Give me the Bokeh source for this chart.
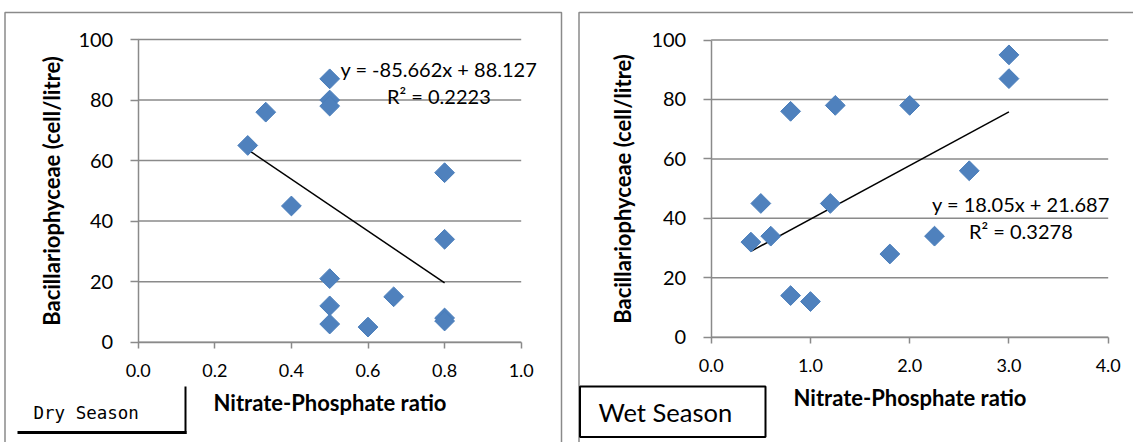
from bokeh.plotting import figure
from bokeh.layouts import row
from bokeh.models import Range1d, FixedTicker, NumeralTickFormatter, Label, BoxAnnotation
from bokeh.embed import file_html
from bokeh.resources import INLINE
import numpy as np

# ---- data ----
dry_x = [0.286, 0.333, 0.4, 0.5, 0.5, 0.5, 0.5, 0.5, 0.5, 0.6, 0.667, 0.8, 0.8, 0.8, 0.8]
dry_y = [65, 76, 45, 87, 80, 78, 21, 12, 6, 5, 15, 56, 34, 8, 7]
dry_slope, dry_intercept, dry_r2 = -85.662, 88.127, 0.2223

wet_x = [0.4, 0.5, 0.6, 0.8, 0.8, 1.0, 1.2, 1.25, 1.8, 2.0, 2.25, 2.6, 3.0, 3.0]
wet_y = [32, 45, 34, 76, 14, 12, 45, 78, 28, 78, 34, 56, 95, 87]
wet_slope, wet_intercept, wet_r2 = 18.05, 21.687, 0.3278

dry_xticks = [0.0, 0.2, 0.4, 0.6, 0.8, 1.0]
wet_xticks = [0.0, 1.0, 2.0, 3.0, 4.0]
y_ticks = [0, 20, 40, 60, 80, 100]

x_title = "Nitrate-Phosphate ratio"
y_title = "Bacillariophyceae (cell/litre)"

FONT = "Lato"
GRAY = "#8a8a8a"
BLUE = "#4F81BD"
H = 442


def span_range(p0, p1, v0, v1, size):
    # range whose values v0 and v1 fall at canvas pixels p0 and p1
    k = (p1 - p0) / (v1 - v0)
    start = v0 - p0 / k
    return Range1d(start, start + size / k)


def canvas_box(p, l, r, t, b, **kw):
    p.add_layout(BoxAnnotation(left=l, right=r, top=t, bottom=b,
                               left_units="canvas", right_units="canvas",
                               top_units="canvas", bottom_units="canvas", **kw))


def make_panel(width, xs, ys, slope, intercept, r2, xticks, frame_px, outer, eq_pos, ylab_standoff):
    fl, fr, ft, fb = frame_px
    xmax = xticks[-1]
    p = figure(width=width, height=H, output_backend="svg", toolbar_location=None,
               x_range=span_range(fl, fr, 0, xmax, width),
               y_range=span_range(H - fb, H - ft, 0, 100, H),
               min_border_left=0, min_border_right=0, min_border_top=0, min_border_bottom=0)
    p.background_fill_color = "white"
    p.border_fill_color = "white"
    p.outline_line_color = None
    p.xgrid.visible = False
    p.ygrid.visible = False

    # outer chart-area frame
    canvas_box(p, outer[0], outer[1], 12, 470, fill_alpha=0, line_color=GRAY, line_alpha=1,
               line_width=1.5, level="underlay")

    # horizontal gridlines
    p.segment(x0=[0] * len(y_ticks), x1=[xmax] * len(y_ticks), y0=y_ticks, y1=y_ticks,
              line_color=GRAY, line_width=1.5)

    xa = p.xaxis[0]
    xa.fixed_location = 0
    xa.bounds = (0, xmax)
    xa.ticker = FixedTicker(ticks=xticks)
    xa.formatter = NumeralTickFormatter(format="0.0")
    xa.axis_line_color = GRAY
    xa.axis_line_width = 1.5
    xa.major_tick_line_color = GRAY
    xa.major_tick_line_width = 1.5
    xa.major_tick_in = 0
    xa.major_tick_out = 6
    xa.minor_tick_line_color = None
    xa.major_label_text_font = FONT
    xa.major_label_text_font_size = "18px"
    xa.major_label_text_color = "black"
    xa.major_label_standoff = 16
    xa.axis_label = x_title
    xa.axis_label_text_font = FONT
    xa.axis_label_text_font_style = "bold"
    xa.axis_label_text_font_size = "22px"
    xa.axis_label_text_color = "black"
    xa.axis_label_standoff = 8

    ya = p.yaxis[0]
    ya.fixed_location = 0
    ya.bounds = (0, 100)
    ya.ticker = FixedTicker(ticks=y_ticks)
    ya.formatter = NumeralTickFormatter(format="0")
    ya.axis_line_color = GRAY
    ya.axis_line_width = 1.5
    ya.major_tick_line_color = GRAY
    ya.major_tick_line_width = 1.5
    ya.major_tick_in = 0
    ya.major_tick_out = 8
    ya.minor_tick_line_color = None
    ya.major_label_text_font = FONT
    ya.major_label_text_font_size = "20px"
    ya.major_label_text_color = "black"
    ya.major_label_standoff = 17
    ya.axis_label = y_title
    ya.axis_label_text_font = FONT
    ya.axis_label_text_font_style = "bold"
    ya.axis_label_text_font_size = "22px"
    ya.axis_label_text_color = "black"
    ya.axis_label_standoff = ylab_standoff

    # linear trendline
    tx = np.array([min(xs), max(xs)])
    p.line(tx, slope * tx + intercept, line_color="black", line_width=1.5)

    p.scatter(xs, ys, marker="square", angle=np.pi / 4, size=14,
              fill_color=BLUE, line_color="#4A7EBB", line_width=1)

    ex, ey1, ey2 = eq_pos
    sign = "-" if intercept < 0 else "+"
    eq = f"y = {slope:g}x {sign} {abs(intercept):g}"
    p.add_layout(Label(x=ex, y=ey1, text=eq, text_align="center", text_baseline="middle",
                       text_font=FONT, text_font_size="20px", text_color="black"))
    p.add_layout(Label(x=ex, y=ey2, text=f"R² = {r2:g}", text_align="center", text_baseline="middle",
                       text_font=FONT, text_font_size="20px", text_color="black"))
    return p


p1 = make_panel(570, dry_x, dry_y, dry_slope, dry_intercept, dry_r2, dry_xticks,
                (137.7, 520.7, 39, 341.7), (4.5, 561), (0.785, 90.4, 81.2), 11)
p2 = make_panel(563, wet_x, wet_y, wet_slope, wet_intercept, wet_r2, wet_xticks,
                (140.7, 537.7, 39.5, 336.7), (8.5, 620), (3.12, 44.9, 35.8), 13)

# "Dry Season" tag: bottom and right rules only
canvas_box(p1, 17, 186, 430.5, 433.5, fill_color="black", fill_alpha=1, line_color=None)
canvas_box(p1, 184, 186, 386, 433.5, fill_color="black", fill_alpha=1, line_color=None)
p1.add_layout(Label(x=33, y=H - 412, x_units="screen", y_units="screen", text="Dry Season",
                    text_align="left", text_baseline="middle",
                    text_font="DejaVu Sans Mono", text_font_size="17.5px", text_color="black"))

# "Wet Season" tag: full box
canvas_box(p2, 9.5, 195, 386, 436.5, fill_color="white", fill_alpha=1,
           line_color="black", line_alpha=1, line_width=2)
p2.add_layout(Label(x=28, y=H - 411, x_units="screen", y_units="screen", text="Wet Season",
                    text_align="left", text_baseline="middle",
                    text_font=FONT, text_font_size="25.5px", text_color="black"))

layout = row(p1, p2)
open("out.html", "w").write(file_html(layout, INLINE))
